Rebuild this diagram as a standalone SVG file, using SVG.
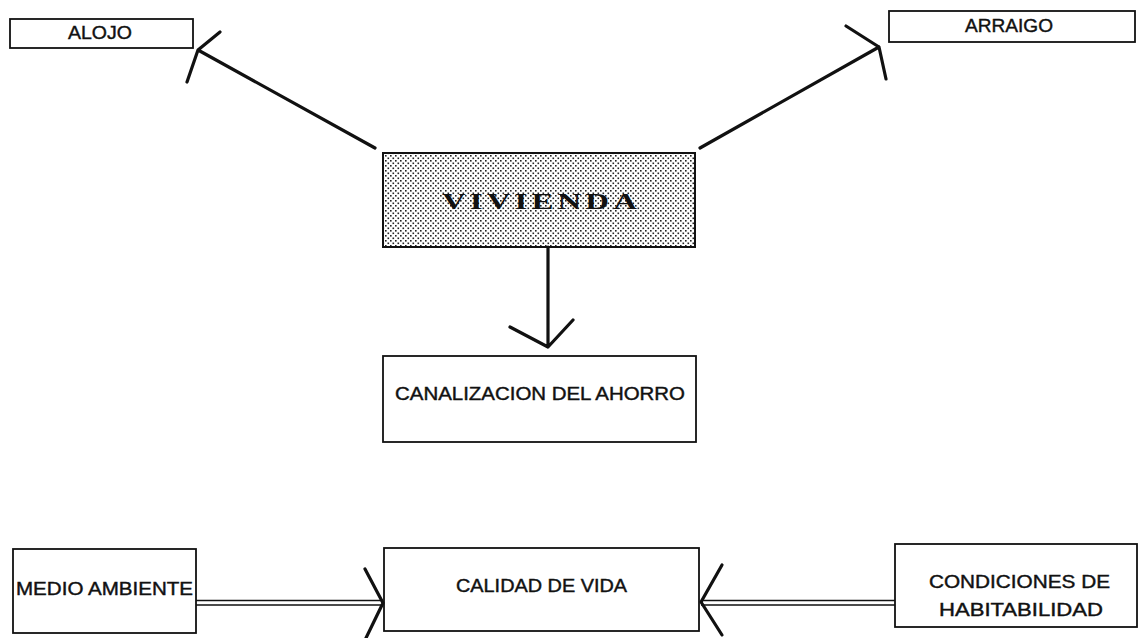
<svg xmlns="http://www.w3.org/2000/svg" width="1139" height="638" viewBox="0 0 1139 638">
<defs>
<pattern id="dots" width="5" height="5" patternUnits="userSpaceOnUse">
<rect width="5" height="5" fill="#ffffff"/>
<rect x="0" y="0" width="1.6" height="1.6" fill="#222"/>
<rect x="2.5" y="2.5" width="1.6" height="1.6" fill="#222"/>
</pattern>
<style>
.box{fill:#fff;stroke:#111;stroke-width:1.8}
.lbl{font-family:"Liberation Sans",Arial,sans-serif;font-size:17.5px;fill:#111;stroke:#111;stroke-width:0.4;text-anchor:start}
.arr{fill:none;stroke:#111;stroke-width:3.2;stroke-linecap:round;stroke-linejoin:round}
.dbl{fill:none;stroke:#111;stroke-width:1.6}
</style>
</defs>
<rect width="1139" height="638" fill="#fff"/>
<g id="alojo">
<rect class="box" x="10" y="19" width="183" height="29"/>
<text class="lbl" x="68" y="39" textLength="64" lengthAdjust="spacingAndGlyphs">ALOJO</text>
</g>
<g id="arraigo">
<rect class="box" x="889" y="11" width="246" height="31"/>
<text class="lbl" x="965" y="32" textLength="88" lengthAdjust="spacingAndGlyphs">ARRAIGO</text>
</g>
<g id="vivienda">
<rect x="383" y="153" width="312" height="94" fill="url(#dots)" stroke="#111" stroke-width="2"/>
<text x="442" y="209" font-family="'Liberation Serif','Times New Roman',serif" font-weight="bold" font-size="24" fill="#111" textLength="199" lengthAdjust="spacingAndGlyphs" letter-spacing="3">VIVIENDA</text>
</g>
<g id="canalizacion">
<rect class="box" x="383" y="356" width="313" height="86"/>
<text class="lbl" x="395" y="400" textLength="290" lengthAdjust="spacingAndGlyphs">CANALIZACION DEL AHORRO</text>
</g>
<g id="medio-ambiente">
<rect class="box" x="13" y="549" width="183" height="84"/>
<text class="lbl" x="16" y="595" textLength="177" lengthAdjust="spacingAndGlyphs">MEDIO AMBIENTE</text>
</g>
<g id="calidad">
<rect class="box" x="384" y="548" width="315" height="83"/>
<text class="lbl" x="456" y="592" textLength="171" lengthAdjust="spacingAndGlyphs">CALIDAD DE VIDA</text>
</g>
<g id="condiciones">
<rect class="box" x="895" y="544" width="242" height="83"/>
<text class="lbl" x="929" y="588" textLength="181" lengthAdjust="spacingAndGlyphs">CONDICIONES DE</text>
<text class="lbl" x="939" y="616" textLength="164" lengthAdjust="spacingAndGlyphs">HABITABILIDAD</text>
</g>
<g id="connectors">
<path class="arr" d="M375,148 L198,50 M220,32 L198,50 L187,82"/>
<path class="arr" d="M700,148 L879,47 M846,26 L879,47 L886,79"/>
<path class="arr" d="M548,247 L548,347 M510,327 L548,347 L573,320"/>
<path class="dbl" d="M196,600.5 H383 M196,605 H383"/>
<path class="arr" d="M365,569 L383,603 L366,638"/>
<path class="dbl" d="M701,600.5 H895 M701,605 H895"/>
<path class="arr" d="M722,565 L701,602 L722,635"/>
</g>
</svg>
